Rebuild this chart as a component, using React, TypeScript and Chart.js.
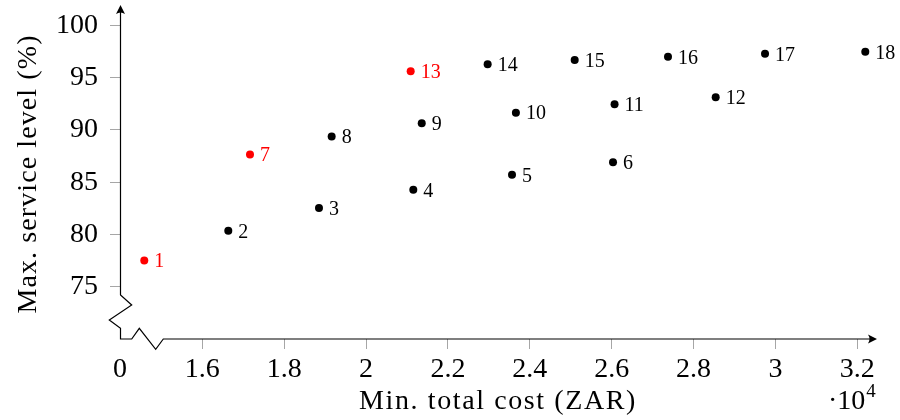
import React, { useEffect, useRef } from "react";
import { Chart, registerables } from "chart.js";

Chart.register(...registerables);

// ---- data ----
const solutionIds = ["1", "2", "3", "4", "5", "6", "7", "8", "9", "10", "11", "12", "13", "14", "15", "16", "17", "18"];
const minTotalCost = [14583, 16635, 18850, 21154, 23565, 26032, 17165, 19160, 21360, 23660, 26070, 28540, 21090, 22970, 25096, 27375, 29745, 32194];
const maxServiceLevel = [77.52, 80.35, 82.52, 84.27, 85.7, 86.91, 87.64, 89.36, 90.64, 91.65, 92.45, 93.12, 95.61, 96.28, 96.69, 97.0, 97.29, 97.48];
const highlightedIds = ["1", "7", "13"];

const xTickValues = [13990, 16000, 18000, 20000, 22000, 24000, 26000, 28000, 30000, 32000];
const xTickLabels = ["0", "1.6", "1.8", "2", "2.2", "2.4", "2.6", "2.8", "3", "3.2"];
const yTickValues = [75, 80, 85, 90, 95, 100];
const yTickLabels = ["75", "80", "85", "90", "95", "100"];

const xMin = 13990;
const xMax = 32480;
const yMin = 70;
const yMax = 101.95;

const xTitle = "Min. total cost (ZAR)";
const yTitle = "Max. service level (%)";
const xScaleBase = "·10";
const xScaleExp = "4";

const FONT = "'Liberation Serif', 'Times New Roman', serif";
const RED = "#ff0000";
const BLACK = "#000000";
const TICK_GRAY = "#a6a6a6";

function arrowHead(ctx: CanvasRenderingContext2D, x: number, y: number, dir: "up" | "right") {
  ctx.save();
  ctx.translate(x, y);
  if (dir === "up") ctx.rotate(-Math.PI / 2);
  ctx.beginPath();
  ctx.moveTo(0, 0);
  ctx.lineTo(-9, -4.5);
  ctx.quadraticCurveTo(-6, 0, -9, 4.5);
  ctx.closePath();
  ctx.fillStyle = BLACK;
  ctx.fill();
  ctx.restore();
}

const overlayPlugin = {
  id: "overlay",
  afterDatasetsDraw(chart: any) {
    const ctx: CanvasRenderingContext2D = chart.ctx;
    const meta = chart.getDatasetMeta(0);
    ctx.save();
    ctx.font = `20px ${FONT}`;
    ctx.textAlign = "left";
    ctx.textBaseline = "alphabetic";
    meta.data.forEach((pt: any, i: number) => {
      const isRed = highlightedIds.includes(solutionIds[i]);
      ctx.fillStyle = isRed ? RED : BLACK;
      ctx.fillText(solutionIds[i], pt.x + 10, pt.y + 6.8);
    });
    ctx.restore();
  },
  afterDraw(chart: any) {
    const ctx: CanvasRenderingContext2D = chart.ctx;
    const ca = chart.chartArea;
    const L = ca.left;
    const B = ca.bottom;
    const T = ca.top;
    const R = ca.right;
    ctx.save();
    ctx.strokeStyle = BLACK;
    ctx.lineWidth = 1.2;
    ctx.lineJoin = "miter";
    // axis lines with break zigzags
    ctx.beginPath();
    ctx.moveTo(L + 0.5, T + 6);
    ctx.lineTo(L + 0.5, B - 44);
    ctx.lineTo(L + 11.7, B - 34);
    ctx.lineTo(L - 10.7, B - 19);
    ctx.lineTo(L + 0.5, B - 10.7);
    ctx.lineTo(L + 0.5, B);
    ctx.lineTo(L + 11.7, B);
    ctx.lineTo(L + 19.3, B - 10.7);
    ctx.lineTo(L + 35.7, B + 10.3);
    ctx.lineTo(L + 43.3, B);
    ctx.lineTo(R - 6, B);
    ctx.stroke();
    arrowHead(ctx, L + 0.5, T, "up");
    arrowHead(ctx, R, B, "right");

    // titles
    ctx.fillStyle = BLACK;
    ctx.font = `28px ${FONT}`;
    ctx.textAlign = "left";
    ctx.textBaseline = "alphabetic";
    (ctx as any).letterSpacing = "1.6px";
    const xtw = ctx.measureText(xTitle).width;
    ctx.fillText(xTitle, 498 - xtw / 2, 409);

    ctx.save();
    ctx.translate(35.5, 174);
    ctx.rotate(-Math.PI / 2);
    (ctx as any).letterSpacing = "1.1px";
    const ytw = ctx.measureText(yTitle).width;
    ctx.fillText(yTitle, -ytw / 2, 0);
    ctx.restore();

    (ctx as any).letterSpacing = "0px";
    ctx.font = `28px ${FONT}`;
    ctx.fillText(xScaleBase, 828, 409);
    const w = ctx.measureText(xScaleBase).width;
    ctx.font = `19px ${FONT}`;
    ctx.fillText(xScaleExp, 828 + w + 1, 397);
    ctx.restore();
  },
};

export default function App() {
  const canvasRef = useRef<HTMLCanvasElement | null>(null);

  useEffect(() => {
    if (!canvasRef.current) return;
    const points = minTotalCost.map((c, i) => ({ x: c, y: maxServiceLevel[i] }));
    const colors = solutionIds.map((id) => (highlightedIds.includes(id) ? RED : BLACK));
    const chart = new Chart(canvasRef.current, {
      type: "scatter",
      data: {
        datasets: [
          {
            label: "Solutions",
            data: points,
            pointRadius: 4,
            pointHoverRadius: 4,
            pointBorderWidth: 0,
            pointBackgroundColor: colors,
            pointBorderColor: colors,
          },
        ],
      },
      options: {
        responsive: false,
        animation: false,
        events: [],
        layout: { padding: { top: 5, right: 23, left: 0, bottom: 0 } },
        plugins: {
          legend: { display: false },
          tooltip: { enabled: false },
        },
        scales: {
          x: {
            type: "linear",
            min: xMin,
            max: xMax,
            afterBuildTicks: (scale: any) => {
              scale.ticks = xTickValues.map((v) => ({ value: v }));
            },
            afterFit: (scale: any) => {
              scale.height = 81;
              scale.paddingLeft = 0;
              scale.paddingRight = 0;
            },
            border: { display: false },
            grid: {
              drawOnChartArea: false,
              drawTicks: true,
              tickLength: 10,
              color: (c: any) => (c.index === 0 ? "rgba(0,0,0,0)" : TICK_GRAY),
            },
            ticks: {
              autoSkip: false,
              maxRotation: 0,
              padding: 4,
              color: BLACK,
              font: { family: FONT, size: 28 },
              callback: (_v: any, i: number) => xTickLabels[i],
            },
          },
          y: {
            type: "linear",
            min: yMin,
            max: yMax,
            afterBuildTicks: (scale: any) => {
              scale.ticks = yTickValues.map((v) => ({ value: v }));
            },
            afterFit: (scale: any) => {
              scale.width = 120;
              scale.paddingTop = 0;
              scale.paddingBottom = 0;
            },
            border: { display: false },
            grid: {
              drawOnChartArea: false,
              drawTicks: true,
              tickLength: 10,
              color: TICK_GRAY,
            },
            ticks: {
              autoSkip: false,
              padding: 12,
              color: BLACK,
              font: { family: FONT, size: 28 },
              callback: (_v: any, i: number) => yTickLabels[i],
            },
          },
        },
      },
      plugins: [overlayPlugin],
    } as any);
    return () => chart.destroy();
  }, []);

  return (
    <div style={{ position: "absolute", left: 0, top: 0, width: 900, height: 420, background: "#fff" }}>
      <canvas ref={canvasRef} width={900} height={420} />
    </div>
  );
}
